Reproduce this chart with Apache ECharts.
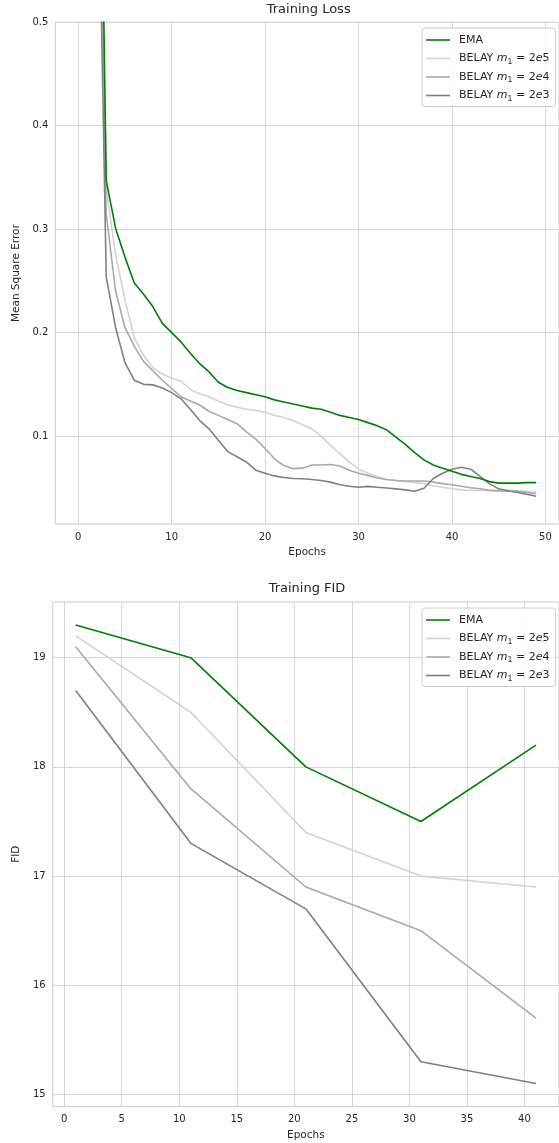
<!DOCTYPE html>
<html><head><meta charset="utf-8">
<script src="https://cdn.jsdelivr.net/npm/echarts@6/dist/echarts.min.js"></script>
<style>html,body{margin:0;padding:0;background:#fff}#c{width:559px;height:1143px}</style>
</head><body><div id="c"></div>
<script>
// ---------- data ----------
const seriesNames = ['EMA', 'BELAY m₁ = 2e5', 'BELAY m₁ = 2e4', 'BELAY m₁ = 2e3'];
const seriesColors = ['#008000', '#d3d3d3', '#a9a9a9', '#808080'];

const lossEpochs = [0,1,2,3,4,5,6,7,8,9,10,11,12,13,14,15,16,17,18,19,20,21,22,23,24,25,26,27,28,29,30,31,32,33,34,35,36,37,38,39,40,41,42,43,44,45,46,47,48,49];
const lossEMA = [2.0,1.4,0.95,0.347,0.301,0.273,0.248,0.237,0.225,0.209,0.200,0.191,0.180,0.170,0.162,0.152,0.147,0.144,0.142,0.140,0.138,0.135,0.133,0.131,0.129,0.127,0.126,0.123,0.120,0.118,0.116,0.113,0.110,0.106,0.099,0.092,0.084,0.077,0.072,0.069,0.066,0.063,0.061,0.059,0.056,0.0545,0.0545,0.0545,0.055,0.055];
const lossB2e5 = [1.8,1.3,0.88,0.340,0.275,0.232,0.195,0.178,0.166,0.160,0.156,0.153,0.145,0.141,0.138,0.134,0.130,0.128,0.126,0.125,0.123,0.120,0.118,0.115,0.111,0.107,0.100,0.091,0.083,0.075,0.068,0.064,0.061,0.058,0.057,0.056,0.055,0.054,0.052,0.0505,0.049,0.048,0.0475,0.0475,0.0475,0.0475,0.0475,0.047,0.0465,0.0456];
const lossB2e4 = [1.7,1.25,0.85,0.315,0.240,0.205,0.187,0.172,0.163,0.154,0.146,0.138,0.134,0.130,0.124,0.120,0.116,0.112,0.104,0.097,0.088,0.078,0.0715,0.0685,0.069,0.072,0.072,0.0725,0.071,0.067,0.064,0.062,0.0595,0.058,0.057,0.0565,0.0565,0.0565,0.0555,0.054,0.053,0.0515,0.050,0.049,0.0475,0.047,0.0468,0.0466,0.0455,0.0443];
const lossB2e3 = [1.6,1.2,0.74,0.254,0.205,0.171,0.154,0.150,0.1495,0.1465,0.142,0.136,0.126,0.115,0.107,0.096,0.085,0.080,0.075,0.067,0.064,0.0615,0.060,0.059,0.0588,0.058,0.057,0.0555,0.053,0.0515,0.0505,0.0514,0.0505,0.0498,0.049,0.048,0.0467,0.0495,0.059,0.064,0.068,0.0698,0.068,0.061,0.054,0.049,0.0472,0.0455,0.0437,0.0418];

const fidEpochs = [1, 11, 21, 31, 41];
const fidEMA   = [19.3, 19.0, 18.0, 17.5, 18.2];
const fidB2e5  = [19.2, 18.5, 17.4, 17.0, 16.9];
const fidB2e4  = [19.1, 17.8, 16.9, 16.5, 15.7];
const fidB2e3  = [18.7, 17.3, 16.7, 15.3, 15.1];

const lossXTicks = [0, 10, 20, 30, 40, 50];
const lossYTicks = [0.1, 0.2, 0.3, 0.4, 0.5];
const fidXTicks = [0, 5, 10, 15, 20, 25, 30, 35, 40];
const fidYTicks = [15, 16, 17, 18, 19];

// ---------- chart ----------
const TXT = '#262626';
const GRIDC = '#d6d6d6';
const FONT = 'DejaVu Sans';

function pairs(xs, ys) { return xs.map((x, i) => [x, ys[i]]); }

const lossSets = [lossEMA, lossB2e5, lossB2e4, lossB2e3];
const fidSets = [fidEMA, fidB2e5, fidB2e4, fidB2e3];
const drawOrder = [1, 2, 3, 0];

const series = [];
[[lossEpochs, lossSets, 0], [fidEpochs, fidSets, 1]].forEach(([xs, sets, gi]) => {
  drawOrder.forEach(k => {
    series.push({
      type: 'line', name: seriesNames[k], xAxisIndex: gi, yAxisIndex: gi,
      data: pairs(xs, sets[k]), showSymbol: false, symbol: 'none',
      color: seriesColors[k], lineStyle: { width: 1.6, color: seriesColors[k] },
      z: k === 0 ? 5 : 3, clip: true, animation: false
    });
  });
});

function legendFmt(name) {
  if (name === 'EMA') return 'EMA';
  const v = name.slice(-1);
  return 'BELAY {i|m}{s|1}{n| = 2}{i|e}{n|' + v + '}';
}
function legend(top) {
  return {
    data: seriesNames, orient: 'vertical', left: 422, top: top,
    padding: [5, 6, 4, 4], itemGap: 4.5, itemWidth: 24, itemHeight: 1.6, icon: 'rect',
    backgroundColor: 'rgba(255,255,255,0.85)', borderColor: '#cccccc', borderWidth: 1, borderRadius: 3,
    selectedMode: false, formatter: legendFmt,
    textStyle: {
      color: TXT, fontFamily: FONT, fontSize: 11, lineHeight: 14, padding: [0, 0, 0, 4],
      rich: {
        n: { color: TXT, fontFamily: FONT, fontSize: 11, lineHeight: 14 },
        i: { color: TXT, fontFamily: FONT, fontSize: 11, lineHeight: 14, fontStyle: 'italic' },
        s: { color: TXT, fontFamily: FONT, fontSize: 7.8, lineHeight: 8, verticalAlign: 'bottom' }
      }
    }
  };
}

function xAxis(gi, min, max, ticks) {
  return {
    type: 'value', gridIndex: gi, min: min, max: max, name: 'Epochs', nameLocation: 'middle', nameGap: 23,
    nameTextStyle: { color: TXT, fontFamily: FONT, fontSize: 10.5 },
    axisLine: { show: false }, axisTick: { show: false, customValues: ticks },
    axisLabel: { customValues: ticks, color: TXT, fontFamily: FONT, fontSize: 10, margin: 8, showMinLabel: true, showMaxLabel: true },
    splitLine: { show: true, lineStyle: { color: GRIDC, width: 1 } }
  };
}
function yAxis(gi, min, max, ticks, name, gap, fmt) {
  return {
    type: 'value', gridIndex: gi, min: min, max: max, name: name, nameLocation: 'middle', nameGap: gap,
    nameTextStyle: { color: TXT, fontFamily: FONT, fontSize: 10.5 },
    axisLine: { show: false }, axisTick: { show: false, customValues: ticks },
    axisLabel: { customValues: ticks, color: TXT, fontFamily: FONT, fontSize: 10, margin: 7, formatter: fmt },
    splitLine: { show: true, lineStyle: { color: GRIDC, width: 1 } }
  };
}

const chart = echarts.init(document.getElementById('c'), null, { renderer: 'canvas' });
chart.setOption({
  animation: false,
  backgroundColor: '#ffffff',
  title: [
    { text: 'Training Loss', left: 308.7, top: 3, textAlign: 'center', padding: 0,
      textStyle: { color: TXT, fontFamily: FONT, fontSize: 13, fontWeight: 'normal' } },
    { text: 'Training FID', left: 307, top: 582, textAlign: 'center', padding: 0,
      textStyle: { color: TXT, fontFamily: FONT, fontSize: 13, fontWeight: 'normal' } }
  ],
  legend: [legend(28), legend(608)],
  grid: [
    { left: 55.3, top: 22.3, width: 506.7, height: 501.7, show: true, borderColor: '#cccccc', borderWidth: 1, backgroundColor: 'transparent', containLabel: false },
    { left: 52.7, top: 602, width: 509, height: 504.5, show: true, borderColor: '#cccccc', borderWidth: 1, backgroundColor: 'transparent', containLabel: false }
  ],
  xAxis: [xAxis(0, -2.45, 51.45, lossXTicks), xAxis(1, -1, 43, fidXTicks)],
  yAxis: [
    yAxis(0, 0.015, 0.5, lossYTicks, 'Mean Square Error', 30, v => v.toFixed(1)),
    yAxis(1, 14.89, 19.51, fidYTicks, 'FID', 25, v => String(Math.round(v)))
  ],
  series: series
});
</script></body></html>
